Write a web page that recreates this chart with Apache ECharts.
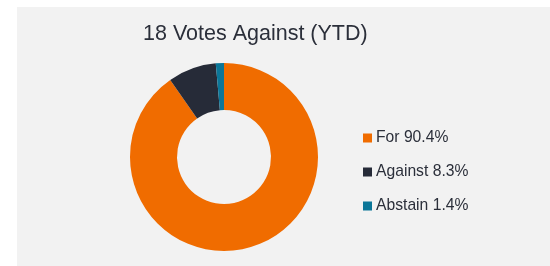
<!DOCTYPE html>
<html>
<head>
<meta charset="utf-8">
<script src="https://cdn.jsdelivr.net/npm/echarts@6/dist/echarts.min.js"></script>
<style>
  html, body { margin: 0; padding: 0; background: #ffffff; }
  #chart {
    position: absolute;
    left: 17px;
    top: 7px;
    width: 533px;
    height: 259px;
    background: #f2f2f2;
  }
</style>
</head>
<body>
<div id="chart"></div>
<script>
const titleText = "18 Votes Against (YTD)";
const categories = ["For", "Against", "Abstain"];
const values = [90.4, 8.3, 1.4];
const colors = ["#f06c00", "#262b38", "#0b7698"];

const chart = echarts.init(document.getElementById("chart"), null, { renderer: "canvas" });

const option = {
  backgroundColor: "#f2f2f2",
  color: colors,
  animation: false,
  title: {
    text: titleText,
    left: 121,
    top: 11,
    textStyle: {
      fontFamily: "'Liberation Sans', Arial, sans-serif",
      fontSize: 21.5,
      fontWeight: "normal",
      color: "#2b2f3a",
    },
  },
  legend: {
    orient: "vertical",
    left: 341,
    top: 118,
    itemWidth: 9,
    itemHeight: 9,
    itemGap: 18,
    icon: "rect",
    data: categories,
    formatter: (name) => name + " " + values[categories.indexOf(name)].toFixed(1) + "%",
    textStyle: {
      fontFamily: "'Liberation Sans', Arial, sans-serif",
      fontSize: 15.7,
      color: "#2b2f3a",
      padding: [0, 0, 0, -1],
    },
  },
  series: [
    {
      type: "pie",
      center: [207, 150],
      radius: [47, 94],
      startAngle: 90,
      clockwise: true,
      label: { show: false },
      labelLine: { show: false },
      itemStyle: { borderWidth: 0 },
      emphasis: { scale: false },
      data: categories.map((c, i) => ({ name: c, value: values[i] })),
    },
  ],
};

chart.setOption(option);
</script>
</body>
</html>
